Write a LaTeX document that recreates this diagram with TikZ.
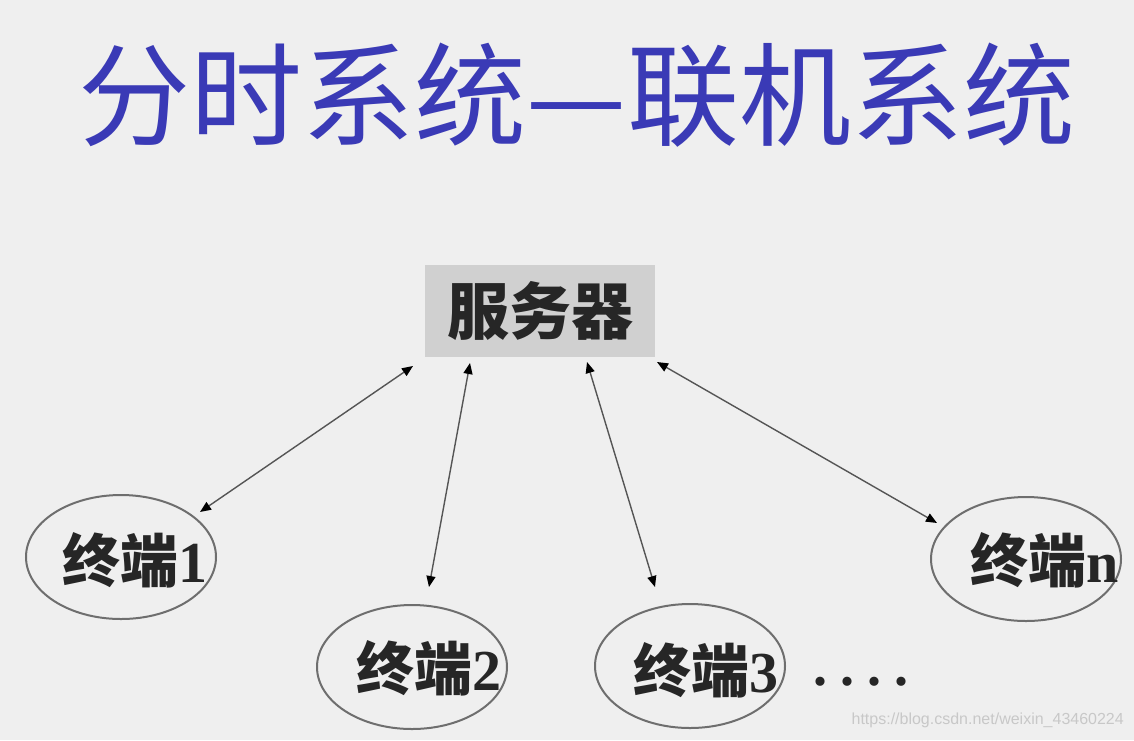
\documentclass[tikz,border=0pt]{standalone}
\usepackage{fontspec}
\setmainfont{Liberation Serif}
\newfontfamily\cjk{Noto Sans CJK SC}
\newfontfamily\wmfont{Liberation Sans}
\usetikzlibrary{shapes.geometric,arrows.meta}
\definecolor{bg}{RGB}{239,239,239}
\definecolor{titleblue}{RGB}{58,58,182}
\definecolor{boxgray}{RGB}{208,208,208}
\definecolor{linegray}{RGB}{85,85,85}
\definecolor{ellgray}{RGB}{110,110,110}
\definecolor{wmgray}{RGB}{200,200,200}
\newcommand\dig[1]{{\rmfamily\bfseries\fontsize{58}{58}\selectfont #1}}
\begin{document}
\begin{tikzpicture}[x=1pt,y=-1pt,
 titletext/.style={text=titleblue, font=\cjk\fontsize{112}{112}\selectfont, inner sep=0},
 server/.style={fill=boxgray, minimum width=230pt, minimum height=92pt, inner sep=0, font=\cjk\bfseries\fontsize{62}{62}\selectfont, text=black!85},
 term/.style={ellipse, draw=ellgray, line width=2pt, minimum width=190pt, minimum height=124pt, inner sep=0},
 termtxt/.style={inner sep=0, font=\cjk\bfseries\fontsize{58}{58}\selectfont, text=black!85},
 link/.style={draw=linegray, line width=1.4pt, {Triangle[length=11pt,width=9pt,color=black]}-{Triangle[length=11pt,width=9pt,color=black]}},
 dotstxt/.style={inner sep=0, font=\rmfamily\bfseries\fontsize{56}{56}\selectfont, text=black!85},
 wmtxt/.style={inner sep=0, font=\wmfont\fontsize{16}{16}\selectfont, text=wmgray},
]
\fill[bg] (0,0) rectangle (1134,740);
\useasboundingbox (0,0) rectangle (1134,740);

\node[titletext] (title) at (577,95) {分时系统—联机系统};

\node[server] (srv) at (540,311) {服务器};

\node[term] (t1) at (121,557) {};
\node[term] (t2) at (412,667) {};
\node[term] (t3) at (690,666) {};
\node[term] (tn) at (1026,559) {};

\node[termtxt] (t1l) at (135,560) {终端\dig{1}};
\node[termtxt] (t2l) at (429,668) {终端\dig{2}};
\node[termtxt] (t3l) at (706,670) {终端\dig{3}};
\node[termtxt] (tnl) at (1045,560) {终端\dig{n}};

\node[dotstxt] (dots) at (861,682) {.\kern13pt.\kern13pt.\kern13pt.};

\coordinate (s1) at (413,366);
\coordinate (e1) at (200,512);
\coordinate (s2) at (470,363);
\coordinate (e2) at (429,587);
\coordinate (s3) at (587,362);
\coordinate (e3) at (655,587);
\coordinate (s4) at (657,362);
\coordinate (e4) at (937,523);

\draw[link] (s1) -- (e1);
\draw[link] (s2) -- (e2);
\draw[link] (s3) -- (e3);
\draw[link] (s4) -- (e4);

\node[wmtxt, anchor=east] (wm) at (1124,720) {https://blog.csdn.net/weixin\_43460224};
\end{tikzpicture}
\end{document}
